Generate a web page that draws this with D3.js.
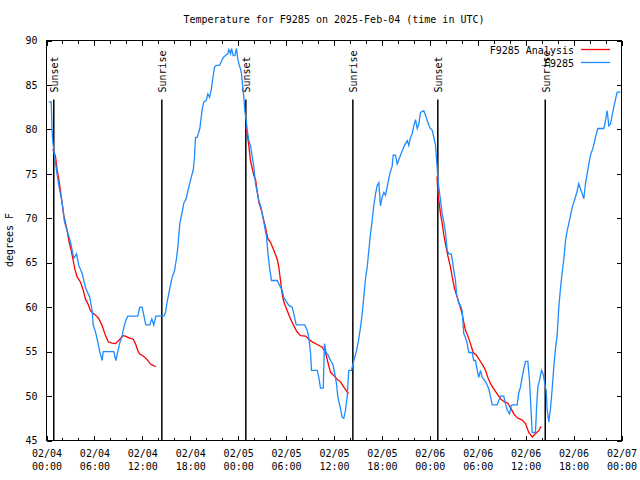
<!DOCTYPE html>
<html><head><meta charset="utf-8">
<script src="https://cdn.jsdelivr.net/npm/d3@7"></script>
<style>
body{margin:0;background:#fff}
svg{display:block}
text{font-family:"DejaVu Sans Mono",monospace;font-size:10px;fill:#000}
</style>
</head><body>
<svg id="c" width="640" height="480"></svg>
<script>
// ---------- DATA ----------
const chartTitle = "Temperature for F9285 on 2025-Feb-04 (time in UTC)";
const yAxisLabel = "degrees F";
const seriesNames = ["F9285 Analysis", "F9285"];
const startMs = Date.UTC(2025, 1, 4, 0, 0);
const yTickValues = [45, 50, 55, 60, 65, 70, 75, 80, 85, 90];
const xTickHours = [0, 6, 12, 18, 24, 30, 36, 42, 48, 54, 60, 66, 72];
const xTickDates = ["02/04","02/04","02/04","02/04","02/05","02/05","02/05","02/05","02/06","02/06","02/06","02/06","02/07"];
const xTickTimes = ["00:00","06:00","12:00","18:00","00:00","06:00","12:00","18:00","00:00","06:00","12:00","18:00","00:00"];
const sunLabels = ["Sunset", "Sunrise", "Sunset", "Sunrise", "Sunset", "Sunrise"];
const sunHours = [0.91, 14.44, 24.96, 38.36, 49.0, 62.45];

// observed F9285 (hours since 02/04 00:00 UTC, degrees F)
const obsHours = [0.29,0.59,0.69,0.79,1.25,1.54,1.97,2.25,2.59,3.01,3.42,3.76,4.04,4.47,4.88,5.42,5.72,5.85,6.14,6.42,6.67,6.97,7.10,8.43,8.68,8.93,9.18,9.48,9.68,9.93,10.18,11.43,11.68,11.98,12.43,12.93,13.19,13.44,13.69,14.69,14.90,15.11,15.44,15.74,16.03,16.28,16.44,16.69,16.99,17.19,17.49,17.82,18.12,18.37,18.53,18.66,18.87,19.20,19.50,19.70,20.00,20.20,20.41,20.62,20.82,21.04,21.29,21.66,21.88,22.13,22.41,22.70,22.83,23.04,23.17,23.38,23.58,23.79,23.95,24.08,24.29,24.42,24.58,24.71,24.83,25.01,25.13,25.33,25.54,25.96,26.17,26.59,26.89,27.21,27.55,27.71,27.92,28.17,28.89,29.21,29.51,29.71,30.34,30.77,30.97,31.27,32.34,32.64,32.84,33.06,33.18,33.90,34.10,34.31,34.65,34.81,35.02,35.27,35.56,35.85,36.10,36.31,36.48,36.69,36.81,37.03,37.23,37.44,37.65,37.85,38.19,38.48,38.82,39.10,39.32,39.53,39.73,39.94,40.16,40.36,40.57,40.78,40.98,41.20,41.41,41.61,41.82,42.03,42.24,42.45,42.74,42.99,43.29,43.41,43.70,43.91,44.24,44.54,44.83,45.17,45.37,45.58,45.79,45.99,46.21,46.42,46.62,46.83,47.24,47.46,47.67,48.00,48.30,48.50,48.71,48.92,49.00,49.12,49.34,49.55,49.75,49.96,50.17,50.37,50.68,50.80,51.00,51.21,51.34,51.63,51.84,52.05,52.25,52.46,52.68,52.88,53.30,53.50,53.72,53.93,54.13,54.34,54.55,54.76,55.10,55.38,55.60,55.81,56.43,56.64,56.85,57.26,57.48,57.69,57.98,58.19,58.31,58.94,59.14,59.35,59.56,59.77,59.98,60.27,60.48,60.61,60.82,61.23,61.36,61.52,61.77,61.98,62.19,62.40,62.57,62.70,62.90,63.11,63.32,63.52,63.73,63.94,64.15,64.36,64.57,64.78,64.99,65.20,65.40,65.61,65.83,66.03,66.24,66.45,66.65,66.87,67.08,67.28,67.49,67.70,67.91,68.12,68.46,68.74,69.03,69.79,70.00,70.21,70.41,70.62,70.83,71.04,71.25,71.46,71.87];
const obsTemps = [83.1,83.1,80.0,78.6,75.4,73.7,71.7,69.6,68.6,67.3,65.5,66.0,64.7,63.8,62.2,61.1,59.6,58.0,57.2,56.1,55.0,54.0,55.0,55.0,54.0,55.0,56.0,56.8,57.7,58.5,59.0,59.0,60.0,60.0,58.0,58.0,58.7,58.0,59.0,59.0,59.4,60.6,62.1,63.4,64.1,65.5,66.7,69.4,70.7,71.7,72.2,73.5,74.6,75.4,76.9,79.1,79.1,80.1,82.3,83.1,83.25,84.0,83.6,84.4,85.7,87.0,87.2,87.2,87.6,88.1,88.3,88.5,89.0,88.5,89.1,88.3,88.3,89.1,87.9,87.4,86.8,86.25,84.75,83.6,82.1,81.0,80.0,78.75,78.2,75.8,73.9,72.0,71.1,69.6,67.9,66.2,64.5,63.0,63.0,62.4,61.9,61.1,60.2,60.0,59.25,58.0,58.0,57.4,56.6,54.9,52.9,52.9,52.1,50.9,50.9,55.9,54.9,54.6,54.0,53.6,52.5,51.4,49.9,49.1,48.6,47.6,47.5,48.4,49.9,52.9,52.9,54.0,55.1,56.4,57.75,59.25,61.1,63.2,64.5,66.4,68.25,69.75,71.4,72.75,73.7,74.0,71.4,72.4,72.9,72.6,73.9,75.0,75.9,77.1,77.1,76.1,76.9,77.6,78.2,78.75,78.2,79.1,79.5,80.4,81.1,80.1,80.6,81.9,82.1,81.6,81.0,80.2,79.9,79.1,78.2,75.75,74.6,73.5,72.0,70.5,69.6,68.4,66.4,66.0,66.0,65.4,64.1,63.0,61.5,60.4,60.2,59.6,57.0,56.6,55.9,54.9,54.9,54.0,54.0,52.9,52.1,52.9,52.1,51.9,51.4,50.8,49.9,49.0,49.0,49.5,50.0,50.0,49.1,48.4,48.0,48.9,49.0,49.0,50.4,51.0,52.1,53.1,53.9,53.9,51.75,49.5,45.9,45.9,48.6,51.0,51.9,52.9,52.5,51.4,50.6,48.4,47.1,48.6,50.8,53.25,55.3,56.8,60.0,62.1,63.9,65.4,67.5,68.6,69.4,70.3,71.25,71.8,72.4,73.1,73.9,73.3,72.75,72.2,73.9,75.0,76.1,77.1,78.0,79.1,80.1,80.1,81.0,82.1,80.4,80.6,81.6,82.5,83.4,84.2,84.2];

// analysis runs (one per night)
const anaHours1 = [0.79,1.13,1.34,1.54,1.75,1.97,2.17,2.59,2.79,3.09,3.34,3.54,3.84,4.26,4.60,4.88,5.17,5.51,5.72,6.14,6.55,6.97,7.39,7.73,8.23,8.64,9.05,9.60,9.89,10.31,10.86,11.14,11.43,11.65,12.18,12.61,13.02,13.44,13.69];
const anaTemps1 = [77.8,76.95,75.4,74.4,73.1,71.6,70.3,68.6,67.5,66.4,65.25,64.3,63.4,62.8,61.9,60.9,60.4,59.6,59.4,59.1,58.7,57.9,56.8,56.1,55.95,55.9,56.25,56.8,56.75,56.55,56.4,55.9,55.1,54.75,54.45,54.1,53.6,53.4,53.35];
const anaHours2 = [24.98,25.13,25.33,25.54,25.76,25.96,26.17,26.38,26.59,26.89,27.21,27.42,27.71,28.05,28.46,28.89,29.09,29.30,29.51,29.71,30.14,30.55,30.97,31.39,31.81,32.43,32.85,33.27,33.90,34.52,34.94,35.23,35.56,35.98,36.40,36.81,37.23,37.57,37.85];
const anaTemps2 = [80.3,79.5,78.2,76.5,75.6,74.8,74.4,73.1,71.8,70.95,69.75,69.0,67.7,67.3,66.4,65.4,64.5,63.0,61.5,60.6,59.6,58.7,57.9,57.2,56.8,56.75,56.4,56.1,55.8,55.5,54.9,53.8,52.7,52.3,51.9,51.6,51.0,50.55,50.3];
const anaHours3 = [48.90,49.00,49.34,49.55,49.75,49.96,50.25,50.59,50.80,51.09,51.43,51.75,52.05,52.25,52.46,52.75,53.09,53.43,53.84,54.26,54.68,54.97,55.26,55.60,56.01,56.43,56.85,57.26,57.76,58.10,58.52,58.94,59.56,59.98,60.39,60.82,61.23,61.64,61.94];
const anaTemps3 = [74.7,72.9,70.5,69.4,68.1,67.1,65.8,64.5,63.4,62.1,61.1,60.2,59.25,58.3,57.4,56.8,55.9,54.9,54.6,54.0,53.4,52.9,52.1,51.4,50.8,50.25,49.7,49.4,49.2,48.7,48.0,47.55,47.3,46.9,45.9,45.4,45.75,46.1,46.6];

// ---------- CHART ----------
const toDate = h => new Date(startMs + h * 3600000);
const svg = d3.select("#c");
const L = 46.5, R = 621.5, T = 40.5, B = 440.5;
const x = d3.scaleUtc().domain([toDate(0), toDate(72)]).range([L, R]);
const y = d3.scaleLinear().domain([45, 90]).range([B, T]);

const majorDates = xTickHours.map(toDate);
const minorDates = d3.range(0, 73, 2).filter(h => h % 6 !== 0).map(toDate);

function styleAxis(g) {
  g.select(".domain").remove();
  g.selectAll("line").attr("stroke", "#000").attr("shape-rendering", "crispEdges");
  g.selectAll("text").attr("font-family", "DejaVu Sans Mono, monospace").attr("font-size", 10).attr("fill", "#000");
}

// bottom major with labels
const gb = svg.append("g").attr("transform", `translate(0,${B})`)
  .call(d3.axisBottom(x).tickValues(majorDates).tickSizeInner(-5).tickSizeOuter(0).tickPadding(9)
    .tickFormat((d, i) => xTickDates[i]));
styleAxis(gb);
gb.selectAll(".tick text").each(function(d, i) {
  const t = d3.select(this);
  t.text(null);
  t.append("tspan").attr("x", 0).text(xTickDates[i]);
  t.append("tspan").attr("x", 0).attr("dy", "1.3em").text(xTickTimes[i]);
});
svg.append("g").attr("transform", `translate(0,${B})`)
  .call(d3.axisBottom(x).tickValues(minorDates).tickSizeInner(-3).tickSizeOuter(0).tickFormat(""))
  .call(styleAxis);
// top mirror
svg.append("g").attr("transform", `translate(0,${T})`)
  .call(d3.axisTop(x).tickValues(majorDates).tickSizeInner(-5).tickSizeOuter(0).tickFormat(""))
  .call(styleAxis);
svg.append("g").attr("transform", `translate(0,${T})`)
  .call(d3.axisTop(x).tickValues(minorDates).tickSizeInner(-3).tickSizeOuter(0).tickFormat(""))
  .call(styleAxis);
// left with labels
svg.append("g").attr("transform", `translate(${L},0)`)
  .call(d3.axisLeft(y).tickValues(yTickValues).tickSizeInner(-5).tickSizeOuter(0).tickPadding(9).tickFormat(d3.format("d")))
  .call(styleAxis);
// right mirror
svg.append("g").attr("transform", `translate(${R},0)`)
  .call(d3.axisRight(y).tickValues(yTickValues).tickSizeInner(-5).tickSizeOuter(0).tickFormat(""))
  .call(styleAxis);

// frame
svg.append("rect").attr("x", L).attr("y", T).attr("width", R - L).attr("height", B - T)
  .attr("fill", "none").attr("stroke", "#000").attr("stroke-width", 1).attr("shape-rendering", "crispEdges");

// sun lines and labels
const sunTop = T + 59;
sunHours.forEach((h, i) => {
  const sx = x(toDate(h));
  svg.append("line").attr("x1", sx).attr("x2", sx).attr("y1", B).attr("y2", sunTop)
    .attr("stroke", "#000").attr("stroke-width", 1.5);
  svg.append("text").attr("transform", `translate(${sx + 4.5},${sunTop - 7}) rotate(-90)`)
    .attr("text-anchor", "start").text(sunLabels[i]);
});

// data lines
const line = d3.line().x(d => x(toDate(d[0]))).y(d => y(d[1]));
const redColor = "#ff0000", blueColor = "#1e8cff";
[[anaHours1, anaTemps1], [anaHours2, anaTemps2], [anaHours3, anaTemps3]].forEach(([hs, ts]) => {
  svg.append("path").datum(hs.map((h, i) => [h, ts[i]])).attr("d", line)
    .attr("fill", "none").attr("stroke", redColor).attr("stroke-width", 1.3);
});
svg.append("path").datum(obsHours.map((h, i) => [h, obsTemps[i]])).attr("d", line)
  .attr("fill", "none").attr("stroke", blueColor).attr("stroke-width", 1.3);

// legend
const legendColors = [redColor, blueColor];
seriesNames.forEach((name, i) => {
  const ly = 54 + i * 13;
  svg.append("text").attr("x", 574).attr("y", ly).attr("text-anchor", "end").text(name);
  svg.append("line").attr("x1", 581).attr("x2", 610).attr("y1", ly - 4.5).attr("y2", ly - 4.5)
    .attr("stroke", legendColors[i]).attr("stroke-width", 1.3);
});

// title and y label
svg.append("text").attr("x", (L + R) / 2).attr("y", 23).attr("text-anchor", "middle").text(chartTitle);
svg.append("text").attr("transform", "translate(13,240) rotate(-90)").attr("text-anchor", "middle").text(yAxisLabel);
</script>
</body></html>
